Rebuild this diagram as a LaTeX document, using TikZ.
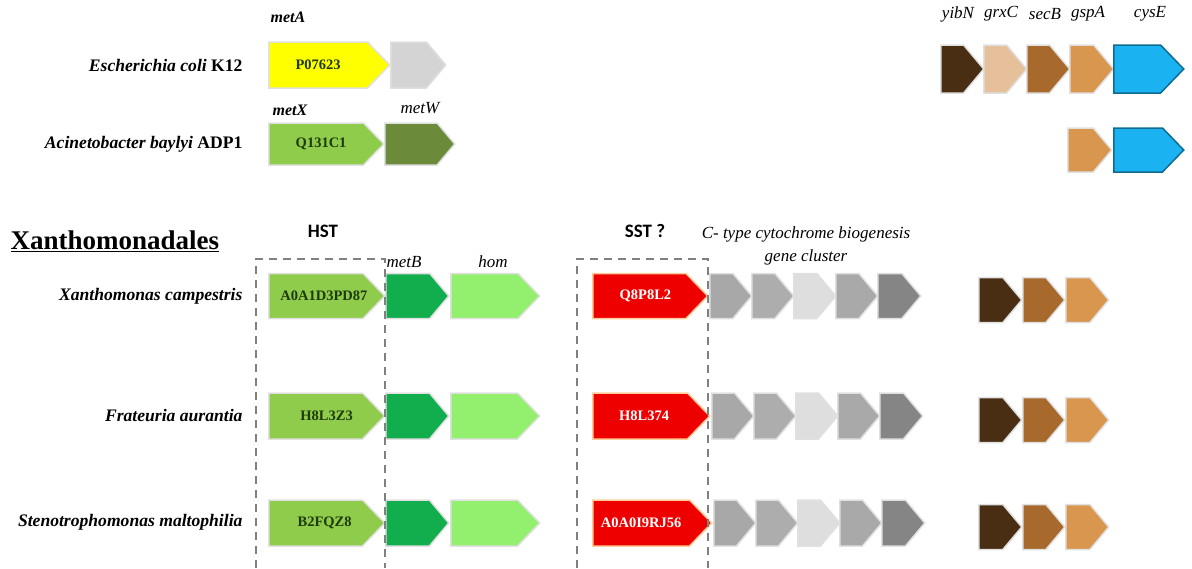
\documentclass[tikz,border=0pt]{standalone}
\usepackage{fontspec}
\setmainfont{Liberation Serif}
\newfontfamily\calib{Carlito}
\usetikzlibrary{shapes.symbols}
\definecolor{yel}{HTML}{FFFF00}
\definecolor{lgrey}{HTML}{D4D4D4}
\definecolor{midgreen}{HTML}{8FCC4C}
\definecolor{olive}{HTML}{6B8A3A}
\definecolor{dbrown}{HTML}{4A2E14}
\definecolor{pbrown}{HTML}{E6C09A}
\definecolor{mbrown}{HTML}{A8692C}
\definecolor{lbrown}{HTML}{D9964F}
\definecolor{cyanb}{HTML}{1AB2F0}
\definecolor{metbg}{HTML}{12AE4E}
\definecolor{homg}{HTML}{93F06E}
\definecolor{redg}{HTML}{EE0000}
\definecolor{gA}{HTML}{A8A8A8}
\definecolor{gB}{HTML}{ADADAD}
\definecolor{gC}{HTML}{DEDEDE}
\definecolor{gD}{HTML}{A9A9A9}
\definecolor{gE}{HTML}{858585}
\definecolor{dashg}{HTML}{808080}
\definecolor{txtg}{HTML}{1E3A08}
\tikzset{
  gene/.style={signal, signal to=east, signal from=nowhere, anchor=west,
    inner sep=0pt, line width=1.5pt, draw=black!12, fill=#1,
    font=\bfseries\fontsize{14.5}{14.5}\selectfont},
  bigg/.style={signal pointer angle=92},
  smallg/.style={signal pointer angle=100},
  species/.style={anchor=east, font=\bfseries\itshape\fontsize{17.6}{17.6}\selectfont},
  glabel/.style={font=\itshape\fontsize{17}{17}\selectfont},
  bglabel/.style={font=\bfseries\itshape\fontsize{16}{16}\selectfont},
  boxline/.style={draw=dashg, line width=2pt, dash pattern=on 8pt off 6pt},
  head/.style={font=\calib\bfseries\fontsize{19}{19}\selectfont}
}
\begin{document}
\begin{tikzpicture}[x=1pt,y=-1pt]
\useasboundingbox (0,0) rectangle (1192,568);

% ---- E. coli ----
\node[bglabel] (lmetA) at (288,17) {metA};
\node[species] (sEc) at (246,65) {Escherichia coli \upshape K12};
\node[gene=yel, bigg, minimum width=121pt, minimum height=46pt, text=txtg] (P07623) at (268,65) {P07623};
\node[gene=lgrey, smallg, minimum width=55pt, minimum height=46pt] (ecg) at (390,65) {};

% ---- Acinetobacter ----
\node[bglabel] (lmetX) at (290,110) {metX};
\node[glabel] (lmetW) at (420,108) {metW};
\node[species] (sAb) at (246,144) {Acinetobacter baylyi \upshape ADP1};
\node[gene=midgreen, bigg, minimum width=115pt, minimum height=42pt, text=txtg] (Q131C1) at (268,144) {\hspace*{10pt}Q131C1};
\node[gene=olive, smallg, minimum width=70pt, minimum height=42pt] (metW) at (384,144) {};

% ---- right top cluster ----
\node[glabel] (lyibN) at (958,14) {yibN};
\node[glabel] (lgrxC) at (1001,14) {grxC};
\node[glabel] (lsecB) at (1045,14) {secB};
\node[glabel] (lgspA) at (1088,14) {gspA};
\node[glabel] (lcysE) at (1150,14) {cysE};
\node[gene=dbrown, smallg, minimum width=43pt, minimum height=48pt] (yibN) at (940,69) {};
\node[gene=pbrown, smallg, minimum width=43pt, minimum height=48pt] (grxC) at (983,69) {};
\node[gene=mbrown, smallg, minimum width=43pt, minimum height=48pt] (secB) at (1026,69) {};
\node[gene=lbrown, smallg, minimum width=44pt, minimum height=48pt] (gspA) at (1069,69) {};
\node[gene=cyanb, bigg, minimum width=70pt, minimum height=48pt, draw=cyanb!60!black] (cysE) at (1113,69) {};
\node[gene=lbrown, smallg, minimum width=44pt, minimum height=44pt] (gspA2) at (1067,150) {};
\node[gene=cyanb, bigg, minimum width=70pt, minimum height=44pt, draw=cyanb!60!black] (cysE2) at (1113,150) {};

% ---- Xanthomonadales header ----
\node[anchor=west, font=\bfseries\fontsize{27}{27}\selectfont] (xan) at (7,241) {\underline{Xanthomonadales}};
\node[head] (hst) at (323,231) {HST};
\node[head] (sst) at (645,231) {SST ?};
\node[glabel] (lmetB) at (404,262) {metB};
\node[glabel] (lhom) at (493,262) {hom};
\node[glabel, align=center, font=\itshape\fontsize{17}{23}\selectfont] (lcyt) at (806,246) {C- type cytochrome biogenesis\\gene cluster};

% ---- rows ----
\node[species] (sXc) at (246,296) {Xanthomonas campestris};
\node[species] (sFa) at (246,415) {Frateuria aurantia};
\node[species] (sSm) at (246,522) {Stenotrophomonas maltophilia};

% row 1
\node[gene=midgreen, bigg, minimum width=116pt, minimum height=45pt, text=txtg] (A0A1D3PD87) at (268,296) {\hspace*{16pt}\makebox[0pt]{A0A1D3PD87}};
\node[gene=metbg, smallg, minimum width=63pt, minimum height=45pt] (metB1) at (385,296) {};
\node[gene=homg, bigg, minimum width=89pt, minimum height=45pt] (hom1) at (450,296) {};
\node[gene=redg, bigg, minimum width=115pt, minimum height=45pt, text=white, draw=orange!40] (Q8P8L2) at (592,296) {\hspace*{12pt}Q8P8L2};
\node[gene=gA, smallg, minimum width=42pt, minimum height=45pt] (c11) at (709,296) {};
\node[gene=gB, smallg, minimum width=42pt, minimum height=45pt] (c12) at (751,296) {};
\node[gene=gC, smallg, minimum width=42pt, minimum height=45pt] (c13) at (793,296) {};
\node[gene=gD, smallg, minimum width=42pt, minimum height=45pt] (c14) at (835,296) {};
\node[gene=gE, smallg, minimum width=43pt, minimum height=45pt] (c15) at (877,296) {};
\node[gene=dbrown, smallg, minimum width=43pt, minimum height=45pt] (b11) at (978,300) {};
\node[gene=mbrown, smallg, minimum width=42pt, minimum height=45pt] (b12) at (1022,300) {};
\node[gene=lbrown, smallg, minimum width=43pt, minimum height=45pt] (b13) at (1065,300) {};

% row 2
\node[gene=midgreen, bigg, minimum width=116pt, minimum height=46pt, text=txtg] (H8L3Z3) at (268,416) {\hspace*{22pt}H8L3Z3};
\node[gene=metbg, smallg, minimum width=63pt, minimum height=46pt] (metB2) at (385,416) {};
\node[gene=homg, bigg, minimum width=89pt, minimum height=46pt] (hom2) at (450,416) {};
\node[gene=redg, bigg, minimum width=117pt, minimum height=46pt, text=white, draw=orange!40] (H8L374) at (592,416) {\hspace*{8pt}H8L374};
\node[gene=gA, smallg, minimum width=42pt, minimum height=46pt] (c21) at (711,416) {};
\node[gene=gB, smallg, minimum width=42pt, minimum height=46pt] (c22) at (753,416) {};
\node[gene=gC, smallg, minimum width=42pt, minimum height=46pt] (c23) at (795,416) {};
\node[gene=gD, smallg, minimum width=42pt, minimum height=46pt] (c24) at (837,416) {};
\node[gene=gE, smallg, minimum width=43pt, minimum height=46pt] (c25) at (879,416) {};
\node[gene=dbrown, smallg, minimum width=43pt, minimum height=45pt] (b21) at (978,420) {};
\node[gene=mbrown, smallg, minimum width=42pt, minimum height=45pt] (b22) at (1022,420) {};
\node[gene=lbrown, smallg, minimum width=43pt, minimum height=45pt] (b23) at (1065,420) {};

% row 3
\node[gene=midgreen, bigg, minimum width=116pt, minimum height=46pt, text=txtg] (B2FQZ8) at (268,523) {\hspace*{18pt}B2FQZ8};
\node[gene=metbg, smallg, minimum width=63pt, minimum height=46pt] (metB3) at (385,523) {};
\node[gene=homg, bigg, minimum width=89pt, minimum height=46pt] (hom3) at (450,523) {};
\node[gene=redg, bigg, minimum width=119pt, minimum height=46pt, text=white, draw=orange!40] (A0A0I9RJ56) at (592,523) {A0A0I9RJ56};
\node[gene=gA, smallg, minimum width=42pt, minimum height=46pt] (c31) at (713,523) {};
\node[gene=gB, smallg, minimum width=42pt, minimum height=46pt] (c32) at (755,523) {};
\node[gene=gC, smallg, minimum width=42pt, minimum height=46pt] (c33) at (797,523) {};
\node[gene=gD, smallg, minimum width=42pt, minimum height=46pt] (c34) at (839,523) {};
\node[gene=gE, smallg, minimum width=43pt, minimum height=46pt] (c35) at (881,523) {};
\node[gene=dbrown, smallg, minimum width=43pt, minimum height=45pt] (b31) at (978,527) {};
\node[gene=mbrown, smallg, minimum width=42pt, minimum height=45pt] (b32) at (1022,527) {};
\node[gene=lbrown, smallg, minimum width=43pt, minimum height=45pt] (b33) at (1065,527) {};

% ---- dashed boxes ----
\coordinate (h1) at (256,568); \coordinate (h2) at (256,259);
\coordinate (h3) at (385,259); \coordinate (h4) at (385,568);
\draw[boxline] (h1) -- (h2) -- (h3) -- (h4);
\coordinate (s1) at (577,568); \coordinate (s2) at (577,259);
\coordinate (s3) at (708,259); \coordinate (s4) at (708,568);
\draw[boxline] (s1) -- (s2) -- (s3) -- (s4);
\end{tikzpicture}
\end{document}
